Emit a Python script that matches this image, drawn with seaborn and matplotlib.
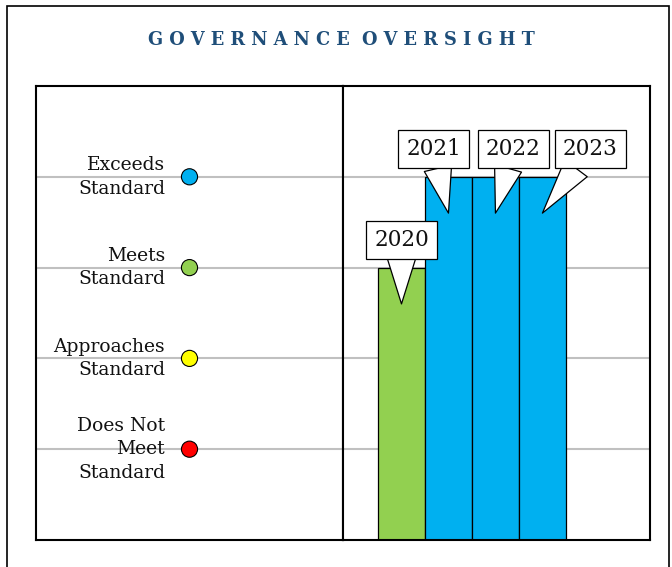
import matplotlib
matplotlib.use("Agg")
import matplotlib.pyplot as plt
import seaborn as sns
from matplotlib.patches import Rectangle

# data
years = ["2020", "2021", "2022", "2023"]
ratings = [3, 4, 4, 4]
level_names = ["Does Not\nMeet\nStandard", "Approaches\nStandard", "Meets\nStandard", "Exceeds\nStandard"]
level_values = [1, 2, 3, 4]
level_colors = ["#ff0000", "#ffff00", "#92d050", "#00b0f0"]
label_shift_px = [0, -15, 18, 48]

sns.set_theme(style="white")
plt.rcParams["font.family"] = ["DejaVu Serif"]

fig = plt.figure(figsize=(6.72, 5.67), dpi=100)
fig.patches.append(Rectangle((7 / 672, -0.02), 662 / 672, 1.02 - 6 / 567,
                             transform=fig.transFigure, fill=False,
                             edgecolor="black", linewidth=1.2))

fig.text(0.508, 1 - 40 / 567, "  ".join(" ".join(w) for w in "GOVERNANCE OVERSIGHT".split()),
         ha="center", va="center", fontsize=12.8, fontweight="bold", color="#1f4e79")

bottom = 1 - 540 / 567
height = (540 - 86) / 567
ax_l = fig.add_axes([36 / 672, bottom, (343 - 36) / 672, height])
ax_r = fig.add_axes([343 / 672, bottom, (650 - 343) / 672, height])

for ax in (ax_l, ax_r):
    ax.set_ylim(0, 5)
    for v in level_values:
        ax.axhline(v, color="#c0c0c0", linewidth=1.5, zorder=0)
    for s in ax.spines.values():
        s.set_color("black")
        s.set_linewidth(1.5)

# left panel: rating scale
ax_l.set_xlim(0, 1)
sns.scatterplot(x=[0.5] * 4, y=level_values, hue=level_names, palette=level_colors,
                s=135, edgecolor="black", linewidth=0.8, legend=False, ax=ax_l, zorder=3)
for name, v in zip(level_names, level_values):
    ax_l.text(0.42, v, name, ha="right", va="center", fontsize=13.5,
              linespacing=1.4, color="#111111")

# right panel: bars per year
bar_colors = [dict(zip(level_values, level_colors))[r] for r in ratings]
sns.barplot(x=years, y=ratings, hue=years, palette=bar_colors, width=1.0, saturation=1,
            edgecolor="black", linewidth=0.9, legend=False, ax=ax_r, zorder=2)
ax_r.set_xlim(-1.245, 5.29)

for ax in (ax_l, ax_r):
    ax.set_ylim(0, 5)
    ax.set_xticks([])
    ax.set_yticks([])
    ax.set_xlabel("")
    ax.set_ylabel("")

for i, (yr, r) in enumerate(zip(years, ratings)):
    ax_r.annotate(yr, xy=(i, r - 0.4), xytext=(label_shift_px[i], 64),
                  textcoords="offset pixels", ha="center", va="center",
                  fontsize=15.5, zorder=5, color="#111111",
                  bbox=dict(boxstyle="square,pad=0.36", fc="white", ec="black", lw=0.9),
                  arrowprops=dict(arrowstyle="wedge,tail_width=1.3,shrink_factor=0.5",
                                  fc="white", ec="black", lw=0.9, shrinkA=0, shrinkB=0))

fig.savefig("out.png", dpi=100)
